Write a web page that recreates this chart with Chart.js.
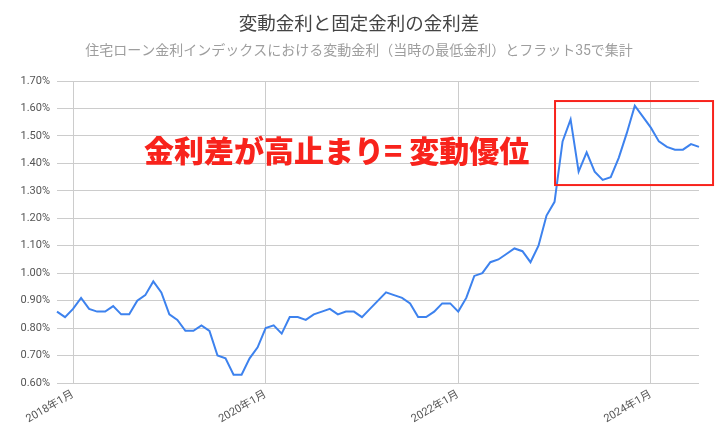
<!DOCTYPE html>
<html>
<head>
<meta charset="utf-8">
<script src="https://cdn.jsdelivr.net/npm/chart.js@4"></script>
<style>
  html, body { margin: 0; padding: 0; background: #fff; }
  #wrap { width: 718px; height: 442px; position: relative; }
</style>
</head>
<body>
<div id="wrap"><canvas id="spread-chart"></canvas></div>
<script>
const FONT = "Roboto, 'Noto Sans CJK JP', sans-serif";

const months = [
    '2017年11月', '2017年12月',
    '2018年1月', '2018年2月', '2018年3月', '2018年4月', '2018年5月', '2018年6月', '2018年7月', '2018年8月', '2018年9月', '2018年10月', '2018年11月', '2018年12月',
    '2019年1月', '2019年2月', '2019年3月', '2019年4月', '2019年5月', '2019年6月', '2019年7月', '2019年8月', '2019年9月', '2019年10月', '2019年11月', '2019年12月',
    '2020年1月', '2020年2月', '2020年3月', '2020年4月', '2020年5月', '2020年6月', '2020年7月', '2020年8月', '2020年9月', '2020年10月', '2020年11月', '2020年12月',
    '2021年1月', '2021年2月', '2021年3月', '2021年4月', '2021年5月', '2021年6月', '2021年7月', '2021年8月', '2021年9月', '2021年10月', '2021年11月', '2021年12月',
    '2022年1月', '2022年2月', '2022年3月', '2022年4月', '2022年5月', '2022年6月', '2022年7月', '2022年8月', '2022年9月', '2022年10月', '2022年11月', '2022年12月',
    '2023年1月', '2023年2月', '2023年3月', '2023年4月', '2023年5月', '2023年6月', '2023年7月', '2023年8月', '2023年9月', '2023年10月', '2023年11月', '2023年12月',
    '2024年1月', '2024年2月', '2024年3月', '2024年4月', '2024年5月', '2024年6月', '2024年7月'
];

// 金利差 (%)
const spread = [
    0.86, 0.84,
    0.87, 0.91, 0.87, 0.86, 0.86, 0.88, 0.85, 0.85, 0.90, 0.92, 0.97, 0.93,
    0.85, 0.83, 0.79, 0.79, 0.81, 0.79, 0.70, 0.69, 0.63, 0.63, 0.69, 0.73,
    0.80, 0.81, 0.78, 0.84, 0.84, 0.83, 0.85, 0.86, 0.87, 0.85, 0.86, 0.86,
    0.84, 0.87, 0.90, 0.93, 0.92, 0.91, 0.89, 0.84, 0.84, 0.86, 0.89, 0.89,
    0.86, 0.91, 0.99, 1.00, 1.04, 1.05, 1.07, 1.09, 1.08, 1.04, 1.10, 1.21,
    1.26, 1.48, 1.56, 1.37, 1.44, 1.37, 1.34, 1.35, 1.42, 1.51, 1.61, 1.57,
    1.53, 1.48, 1.46, 1.45, 1.45, 1.47, 1.46
];

const xTickLabels = ['2018年1月', '2020年1月', '2022年1月', '2024年1月'];
const yMin = 0.6;
const yMax = 1.7;
const yStep = 0.1;

const chartTitle = '変動金利と固定金利の金利差';
const chartSubtitle = '住宅ローン金利インデックスにおける変動金利（当時の最低金利）とフラット35で集計';
const noteText = '金利差が高止まり= 変動優位';
// highlighted range: month index from/to, spread from/to
const noteBox = { xFrom: 62.06, xTo: 81.75, yFrom: 1.321, yTo: 1.627 };

const COLORS = {
    line: '#3d82ee',
    grid: '#cccccc',
    tick: '#555555',
    title: '#444444',
    subtitle: '#9e9e9e',
    note: '#f8231c'
};

const notePlugin = {
    id: 'note',
    afterDraw(chart) {
        const { ctx, scales: { x, y } } = chart;
        ctx.save();
        ctx.font = "900 30px 'Noto Sans CJK JP', sans-serif";
        ctx.fillStyle = COLORS.note;
        ctx.textAlign = 'left';
        ctx.textBaseline = 'middle';
        ctx.fillText(noteText, 144, 151);

        const left = x.getPixelForValue(noteBox.xFrom);
        const right = x.getPixelForValue(noteBox.xTo);
        const top = y.getPixelForValue(noteBox.yTo);
        const bottom = y.getPixelForValue(noteBox.yFrom);
        ctx.strokeStyle = COLORS.note;
        ctx.lineWidth = 2;
        ctx.strokeRect(left, top, right - left, bottom - top);
        ctx.restore();
    }
};

const ctx = document.getElementById('spread-chart').getContext('2d');
new Chart(ctx, {
    type: 'line',
    data: {
        labels: months,
        datasets: [{
            label: '金利差',
            data: spread,
            borderColor: COLORS.line,
            borderWidth: 2,
            pointRadius: 0,
            tension: 0,
            fill: false
        }]
    },
    options: {
        responsive: true,
        maintainAspectRatio: false,
        animation: false,
        layout: { padding: 0 },
        plugins: {
            legend: { display: false },
            tooltip: { enabled: false },
            title: {
                display: true,
                text: chartTitle,
                color: COLORS.title,
                font: { family: FONT, size: 18.5, weight: 'normal' },
                padding: { top: 14, bottom: 7 }
            },
            subtitle: {
                display: true,
                text: chartSubtitle,
                color: COLORS.subtitle,
                font: { family: FONT, size: 14, weight: 'normal' },
                padding: { top: 0, bottom: 21 }
            }
        },
        scales: {
            x: {
                type: 'category',
                offset: false,
                border: { display: false },
                grid: {
                    drawTicks: false,
                    color: c => xTickLabels.includes(months[c.index]) ? COLORS.grid : 'transparent'
                },
                ticks: {
                    autoSkip: false,
                    minRotation: 30,
                    maxRotation: 30,
                    padding: 5,
                    color: COLORS.tick,
                    font: { family: FONT, size: 11 },
                    callback: (v, i) => xTickLabels.includes(months[i]) ? months[i] : ''
                },
                afterFit: s => { s.height = 59; }
            },
            y: {
                min: yMin,
                max: yMax,
                border: { display: false },
                grid: { drawTicks: false, color: COLORS.grid },
                ticks: {
                    stepSize: yStep,
                    padding: 7,
                    color: COLORS.tick,
                    font: { family: FONT, size: 11 },
                    callback: v => v.toFixed(2) + '%'
                },
                afterFit: s => { s.width = 57; }
            },
            // empty right-hand spacer so the titles stay centred on the whole canvas
            yRight: {
                position: 'right',
                min: yMin,
                max: yMax,
                border: { display: false },
                grid: { display: false },
                ticks: { display: false },
                afterFit: s => { s.width = 19; }
            }
        }
    },
    plugins: [notePlugin]
});
</script>
</body>
</html>
